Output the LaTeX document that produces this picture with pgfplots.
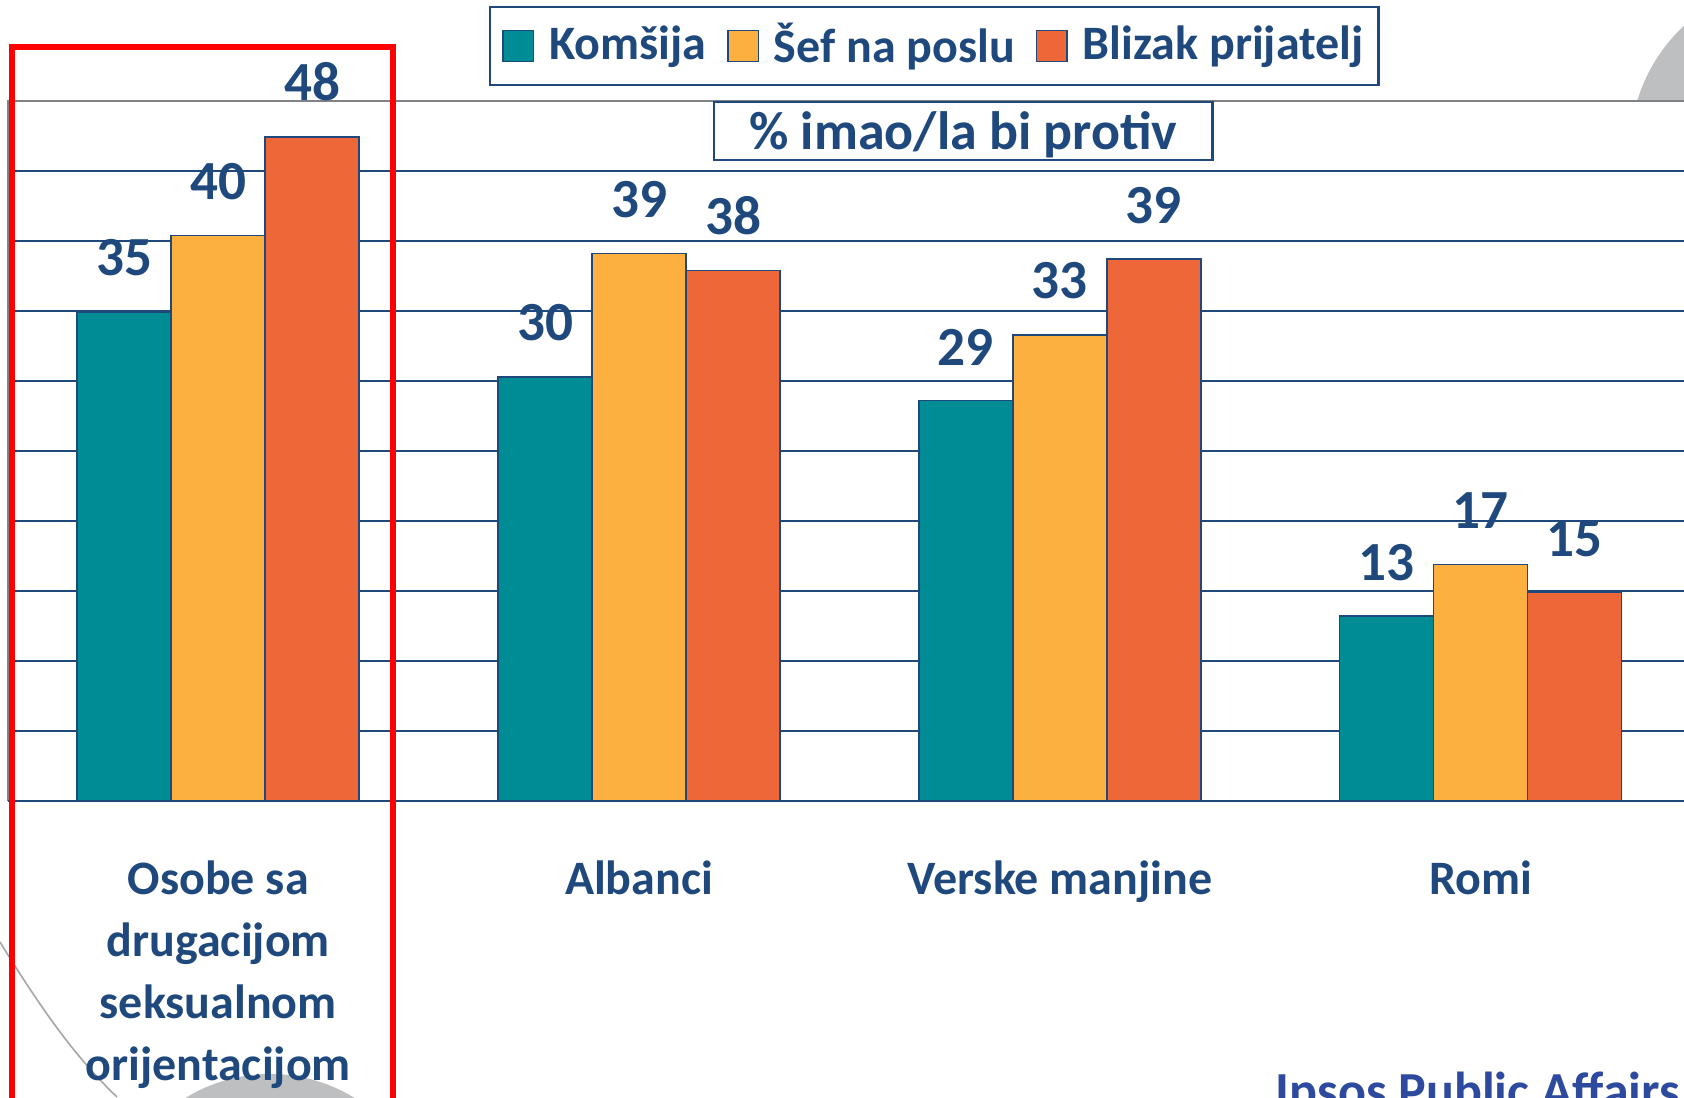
\documentclass[border=0pt]{standalone}
\usepackage{fontspec}
\setmainfont{Carlito}
\usepackage{pgfplots}
\usepackage{pgfplotstable}
\pgfplotsset{compat=1.18}
\definecolor{dblue}{RGB}{31,73,125}
\definecolor{cteal}{RGB}{0,140,149}
\definecolor{cyel}{RGB}{251,176,64}
\definecolor{corg}{RGB}{238,103,56}
\definecolor{framegray}{RGB}{128,130,135}
\definecolor{circgray}{RGB}{190,191,193}
\definecolor{ipsos}{RGB}{46,74,158}
\pgfplotstableread{
x k s b kl sl bl
0 34.95 40.4 47.45 35 40 48
1 30.3 39.1 37.9 30 39 38
2 28.6 33.3 38.7 29 33 39
3 13.2 16.9 14.9 13 17 15
}\datatab
\begin{document}
\begin{tikzpicture}[x=0.25pt,y=0.25pt]
\path[use as bounding box, clip] (0,0) rectangle (1684,1097);
% background decorations
\fill[circgray] (1800,947) circle (170);
\fill[circgray] (270,-138) circle (161);
\draw[gray!70, line width=0.4pt] (0,155) .. controls (40,90) and (75,40) .. (117,0);
\begin{axis}[
  at={(1.975pt,74pt)}, anchor=south west,
  scale only axis, width=419.0pt, height=175pt,
  xmin=-0.5, xmax=3.483, ymin=0, ymax=50,
  clip=false,
  axis line style={draw=none},
  axis background/.style={fill=white},
  ytick={5,10,...,45}, yticklabels={}, ymajorgrids,
  major grid style={dblue, line width=0.55pt},
  ytick style={draw=none},
  xtick={0,1,2,3},
  xticklabels={{Osobe sa\\drugacijom\\seksualnom\\orijentacijom},Albanci,{Verske manjine},Romi},
  xtick style={draw=none},
  xtick pos=bottom,
  extra x ticks={-0.5,0.5,1.5,2.5},
  extra x tick labels={},
  extra x tick style={tick style={draw=dblue, line width=0.6pt}, major tick length=4pt, tick align=outside},
  xticklabel style={align=center, font=\fontsize{12}{15.5}\selectfont\bfseries, text=dblue, inner sep=0pt, anchor=north, yshift=-10.5pt},
  ybar, bar width=23.5pt,
  every axis plot/.append style={draw=dblue, line width=0.4pt},
  nodes near coords,
  point meta=explicit symbolic,
  every node near coord/.append style={font=\fontsize{13.8}{15}\selectfont\bfseries, text=dblue, anchor=south, inner sep=0pt, yshift=8.7pt},
  legend columns=3,
  legend image code/.code={\path[draw=none, fill=none] (-1pt,0pt) -- (9.5pt,0pt);\draw[#1, draw=dblue, line width=0.4pt] (0pt,-3.9pt) rectangle (7.6pt,3.9pt);},
  legend style={at={(0.5528,1.0786)}, anchor=center, draw=dblue, line width=0.6pt, fill=white,
    font=\fontsize{12}{14}\selectfont\bfseries, text=dblue, inner xsep=2.25pt, inner ysep=2pt,
    nodes={inner xsep=1.5pt},
    /tikz/every odd column/.append style={column sep=0.5pt},
    /tikz/every even column/.append style={column sep=2.9pt}},
]
\addplot[fill=cteal, bar shift=-23.5pt] table[x=x, y=k, meta=kl] {\datatab};
\addplot[fill=cyel, bar shift=0pt] table[x=x, y=s, meta=sl] {\datatab};
\addplot[fill=corg, bar shift=23.5pt] table[x=x, y=b, meta=bl] {\datatab};
\legend{Komšija, Šef na poslu, Blizak prijatelj}
\draw[framegray, line width=0.6pt] (axis cs:-0.5,0) -- (axis cs:-0.5,50) -- (axis cs:3.483,50);
\draw[dblue, line width=0.6pt] (axis cs:-0.5,0) -- (axis cs:3.483,0);
\end{axis}
\node[draw=dblue, line width=0.6pt, fill=white, minimum width=124.6pt, minimum height=14.5pt, inner sep=0pt] (ttl) at (963.3,966) {};
\node[inner sep=0pt, font=\fontsize{13.5}{15}\selectfont\bfseries, text=dblue] at ([yshift=-1pt]ttl.center) {\% imao/la bi protiv};
\node[anchor=base west, inner sep=0pt, font=\fontsize{13}{15}\selectfont\bfseries, text=ipsos] at (1275,-11) {Ipsos Public Affairs};
\draw[red, line width=1.5pt] (12,1050.3) rectangle (393.3,-20);
\end{tikzpicture}
\end{document}
